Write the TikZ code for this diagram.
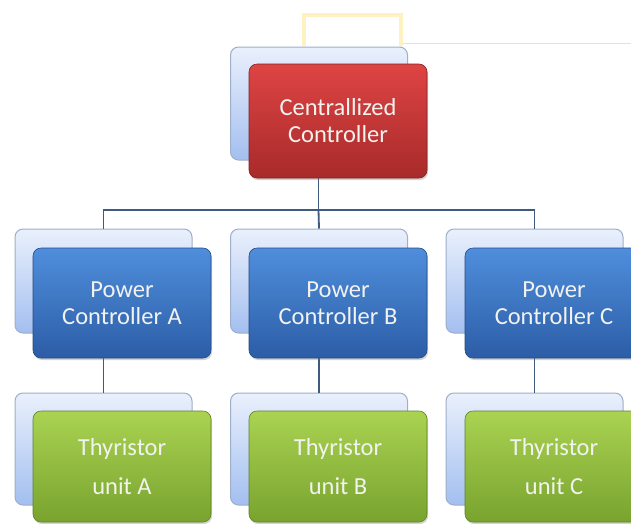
\documentclass[tikz,border=0pt]{standalone}
\usepackage{fontspec}
\setmainfont{Carlito}
\usetikzlibrary{shadows}
\definecolor{backtop}{HTML}{EAF0FC}
\definecolor{backbot}{HTML}{A3BFF0}
\definecolor{backline}{HTML}{9EAECB}
\definecolor{redtop}{HTML}{DE4444}
\definecolor{redbot}{HTML}{A82A2A}
\definecolor{bluetop}{HTML}{4F8EDC}
\definecolor{bluebot}{HTML}{2C5DA6}
\definecolor{greentop}{HTML}{AAD352}
\definecolor{greenbot}{HTML}{78A32E}
\definecolor{wire}{HTML}{3E5A7E}
\definecolor{textc}{HTML}{F2F2EE}
\definecolor{frameyellow}{HTML}{FFF2C2}
\definecolor{linecyan}{HTML}{BDEFFF}
\tikzset{
  backbox/.style={rectangle, rounded corners=8pt, draw=backline, line width=1pt,
    top color=backtop, bottom color=backbot, minimum width=177pt, minimum height=#1},
  frontbox/.style={rectangle, rounded corners=8pt, line width=0.6pt,
    minimum width=178pt, minimum height=111pt, align=center, text=textc,
    drop shadow={opacity=0.35, shadow xshift=1pt, shadow yshift=-2pt}},
  redbox/.style={frontbox, top color=redtop, bottom color=redbot, draw=redbot!80!black,
    minimum height=114pt, font=\fontsize{24.5}{27}\selectfont},
  bluebox/.style={frontbox, top color=bluetop, bottom color=bluebot, draw=bluebot!80!black,
    minimum height=110pt, font=\fontsize{24.5}{27}\selectfont},
  greenbox/.style={frontbox, top color=greentop, bottom color=greenbot, draw=greenbot!80!black,
    minimum height=111pt, font=\fontsize{24.5}{39}\selectfont},
  wireline/.style={draw=wire, line width=1.8pt}
}
\begin{document}
\begin{tikzpicture}[x=1pt,y=-1pt]
\useasboundingbox (0,0) rectangle (631,523);
\clip (0,0) rectangle (631,523);
\fill[white] (0,0) rectangle (631,523);

% faint frame and line at the top
\draw[frameyellow, line width=4pt] (304,46) -- (304,15) -- (401,15) -- (401,46);
\draw[linecyan, line width=1.8pt] (403,43.5) -- (631,43.5);

% back panels
\node[backbox=113pt] (cbk) at (319,103.5) {};
\node[backbox=104pt] (pAb) at (103.5,281) {};
\node[backbox=104pt] (pBb) at (319,281) {};
\node[backbox=104pt] (pCb) at (534.5,281) {};
\node[backbox=112pt] (tAb) at (103.5,449) {};
\node[backbox=112pt] (tBb) at (319,449) {};
\node[backbox=112pt] (tCb) at (534.5,449) {};

% connectors
\coordinate (bus) at (318.5,210);
\draw[wireline] (cbk.south -| bus) -- (bus);
\draw[wireline] (pAb.north) |- (bus) -| (pCb.north);
\draw[wireline] (bus) -- (pBb.north);
\draw[wireline] (pAb.south) -- (tAb.north);
\draw[wireline] (pBb.south) -- (tBb.north);
\draw[wireline] (pCb.south) -- (tCb.north);

% front boxes
\node[redbox] (cc) at (338,121) {Centrallized\\Controller};
\node[bluebox] (pA) at (122,303) {Power\\Controller A};
\node[bluebox] (pB) at (338,303) {Power\\Controller B};
\node[bluebox] (pC) at (554,303) {Power\\Controller C};
\node[greenbox] (tA) at (122,466.5) {Thyristor\\unit A};
\node[greenbox] (tB) at (338,466.5) {Thyristor\\unit B};
\node[greenbox] (tC) at (554,466.5) {Thyristor\\unit C};
\end{tikzpicture}
\end{document}
